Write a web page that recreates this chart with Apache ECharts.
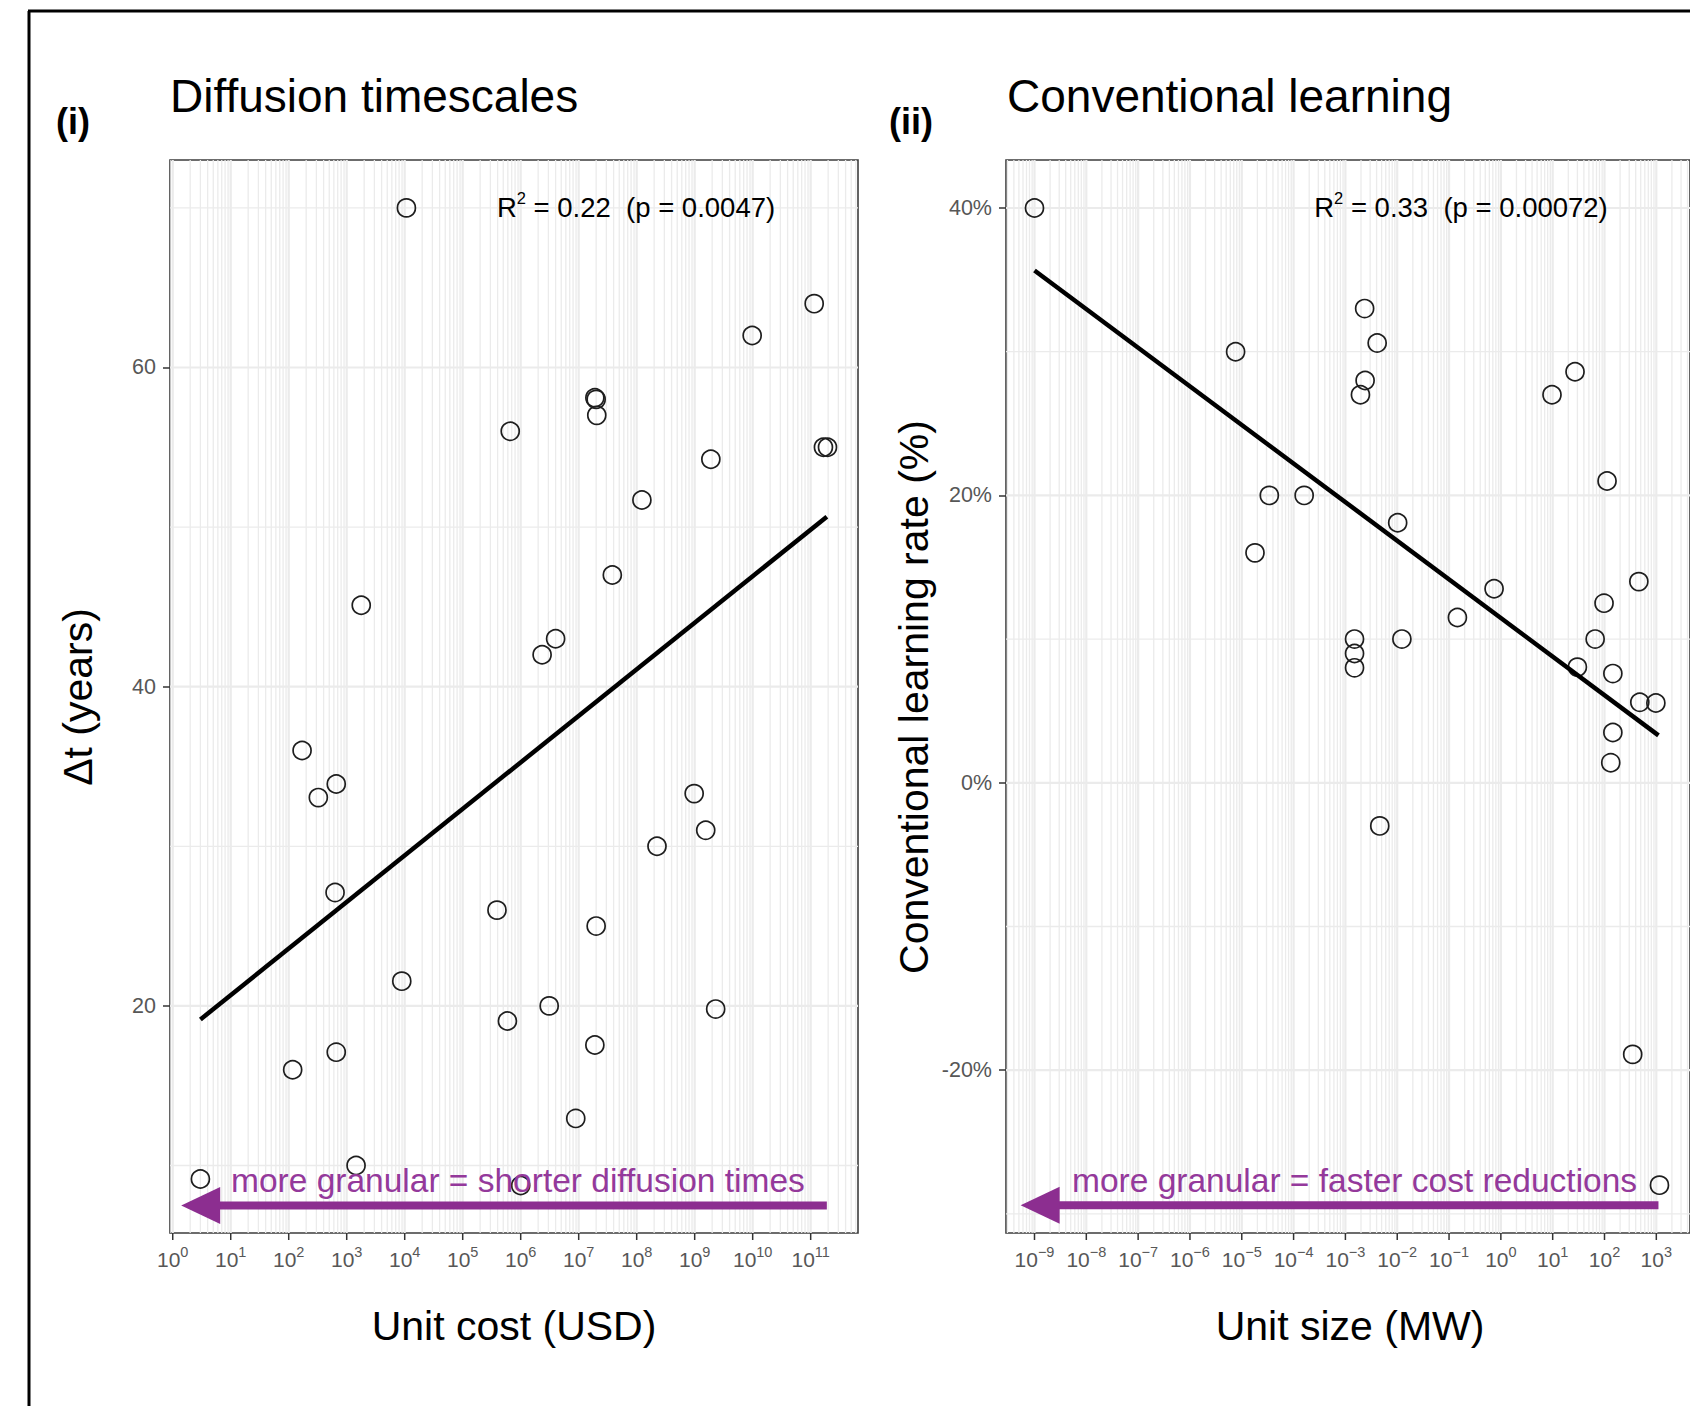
<!DOCTYPE html>
<html>
<head>
<meta charset="utf-8">
<script src="https://cdn.jsdelivr.net/npm/echarts@6/dist/echarts.min.js"></script>
<style>
html,body{margin:0;padding:0;background:#fff;}
#chart{width:1690px;height:1406px;}
</style>
</head>
<body>
<div id="chart"></div>
<script>
// ---------------- DATA ----------------
// Panel (i): Diffusion timescales
const unitCostUSD = [1.07e4, 1.15e11, 9.8e9, 1.9e7, 2.0e7, 2.05e7, 6.6e5, 1.9e9, 1.66e11, 1.95e11,
  1.23e8, 3.8e7, 1.78e3, 4.0e6, 2.34e6, 170, 660, 324, 9.8e8, 1.55e9,
  2.24e8, 630, 3.9e5, 2.0e7, 8.9e3, 3.1e6, 2.3e9, 5.9e5, 660, 1.9e7,
  117, 8.9e6, 1.45e3, 3.0, 1.0e6];
const diffusionYears = [70.0, 64.0, 62.0, 58.1, 58.0, 57.0, 56.0, 54.25, 55.0, 55.0,
  51.7, 47.0, 45.1, 43.0, 42.0, 36.0, 33.9, 33.05, 33.3, 31.0,
  30.0, 27.1, 26.0, 25.0, 21.55, 20.0, 19.8, 19.05, 17.1, 17.55,
  16.0, 12.95, 10.0, 9.15, 8.75];
const fitCostX = [3.0, 1.9e11];
const fitCostY = [19.15, 50.65];
const arrowCost = [1.9e11, 1.4, 7.5];          // from x, tip x, y
const costTickExp = [0, 1, 2, 3, 4, 5, 6, 7, 8, 9, 10, 11];
const yearTicks = [20, 40, 60];
const yearMinor = [10, 30, 50, 70];

// Panel (ii): Conventional learning
const unitSizeMW = [1e-9, 7.6e-6, 2.35e-3, 4.1e-3, 2.4e-3, 1.95e-3, 9.7, 27, 112, 3.4e-5,
  1.6e-4, 1.02e-2, 1.8e-5, 0.74, 460, 98, 0.145, 1.5e-3, 1.5e-3, 1.5e-3,
  1.23e-2, 66, 30, 145, 480, 980, 145, 132, 4.6e-3, 350, 1150];
const learningRatePct = [40.0, 30.0, 33.0, 30.6, 28.0, 27.0, 27.0, 28.6, 21.0, 20.0,
  20.0, 18.1, 16.0, 13.5, 14.0, 12.5, 11.5, 10.0, 9.0, 8.0,
  10.0, 10.0, 8.05, 7.6, 5.6, 5.55, 3.5, 1.4, -3.0, -18.9, -28.0];
const fitSizeX = [1e-9, 1100];
const fitSizeY = [35.65, 3.3];
const arrowSize = [1100, 5.4e-10, -29.4];
const sizeTickExp = [-9, -8, -7, -6, -5, -4, -3, -2, -1, 0, 1, 2, 3];
const rateTicks = [-20, 0, 20, 40];
const rateMinor = [-30, -10, 10, 30];

// axis ranges
const COST_RANGE = [Math.pow(10, -0.047), Math.pow(10, 11.816)];
const SIZE_RANGE = [Math.pow(10, -9.55), Math.pow(10, 3.65)];
const YEAR_RANGE = [5.77, 73.0];
const RATE_RANGE = [-31.33, 43.34];

// ---------------- STYLE ----------------
const FONT = "'Liberation Sans', Arial, Helvetica, sans-serif";
const GRID_COLOR = '#ebebeb';
const TICK_TEXT = '#575757';
const PURPLE = '#8c2e90';
const PURPLE_TEXT = '#94399b';

function logGrid(range) {
  const lo = Math.log10(range[0]), hi = Math.log10(range[1]);
  const major = [], minor = [];
  for (let k = Math.floor(lo); k <= Math.ceil(hi); k++) {
    const base = Math.pow(10, k);
    if (base >= range[0] && base <= range[1]) major.push(base);
    for (let m = 2; m <= 9; m++) {
      const v = m * base;
      if (v >= range[0] && v <= range[1]) minor.push(v);
    }
  }
  return {major, minor};
}

function vLines(idx, values, yRef, width) {
  return {
    type: 'custom', xAxisIndex: idx, yAxisIndex: idx, z: 1, silent: true, animation: false, clip: true,
    data: values.map(v => [v, yRef]),
    renderItem: (params, api) => {
      const cs = params.coordSys;
      const x = api.coord([api.value(0), api.value(1)])[0];
      return {type: 'line', shape: {x1: x, y1: cs.y, x2: x, y2: cs.y + cs.height},
        style: {stroke: GRID_COLOR, lineWidth: width}};
    }
  };
}
function hLines(idx, values, xRef, width) {
  return {
    type: 'custom', xAxisIndex: idx, yAxisIndex: idx, z: 1, silent: true, animation: false, clip: true,
    data: values.map(v => [xRef, v]),
    renderItem: (params, api) => {
      const cs = params.coordSys;
      const y = api.coord([api.value(0), api.value(1)])[1];
      return {type: 'line', shape: {x1: cs.x, y1: y, x2: cs.x + cs.width, y2: y},
        style: {stroke: GRID_COLOR, lineWidth: width}};
    }
  };
}
function xTicks(idx, exps, yRef) {
  return {
    type: 'custom', xAxisIndex: idx, yAxisIndex: idx, z: 5, silent: true, animation: false, clip: false,
    data: exps.map(e => [Math.pow(10, e), yRef]),
    renderItem: (params, api) => {
      const cs = params.coordSys;
      const x = api.coord([api.value(0), api.value(1)])[0];
      const b = cs.y + cs.height;
      const lab = String(exps[params.dataIndex]).replace('-', '\u2212');
      return {type: 'group', children: [
        {type: 'line', shape: {x1: x, y1: b, x2: x, y2: b + 7}, style: {stroke: '#333', lineWidth: 1.5}},
        {type: 'text', x: x, y: b + 24, style: {
          text: '{b|10}{s|' + lab + '}',
          align: 'center', verticalAlign: 'middle', textAlign: 'center', textVerticalAlign: 'middle',
          rich: {
            b: {fontSize: 21, fontFamily: FONT, fill: TICK_TEXT, color: TICK_TEXT, lineHeight: 25, verticalAlign: 'bottom'},
            s: {fontSize: 14.5, fontFamily: FONT, fill: TICK_TEXT, color: TICK_TEXT, verticalAlign: 'top'}
          }
        }}
      ]};
    }
  };
}
function arrowSeries(idx, arr) {
  return {
    type: 'custom', xAxisIndex: idx, yAxisIndex: idx, z: 4, silent: true, animation: false, clip: false,
    encode: {x: [0, 1], y: 2},
    data: [arr],
    renderItem: (params, api) => {
      const p1 = api.coord([api.value(0), api.value(2)]);
      const p2 = api.coord([api.value(1), api.value(2)]);
      const L = 39, W = 18.5;
      return {type: 'group', children: [
        {type: 'line', shape: {x1: p1[0], y1: p1[1], x2: p2[0] + L - 2, y2: p2[1]},
          style: {stroke: PURPLE, lineWidth: 8, lineCap: 'butt'}},
        {type: 'polygon', shape: {points: [[p2[0], p2[1]], [p2[0] + L, p2[1] - W], [p2[0] + L, p2[1] + W]]},
          style: {fill: PURPLE}}
      ]};
    }
  };
}
function scatterSeries(idx, xs, ys) {
  return {
    type: 'scatter', xAxisIndex: idx, yAxisIndex: idx, z: 3, silent: true, animation: false,
    symbol: 'circle', symbolSize: 18,
    itemStyle: {color: 'rgba(255,255,255,0)', borderColor: '#1e1e1e', borderWidth: 1.7, opacity: 1},
    data: xs.map((x, i) => [x, ys[i]])
  };
}
function fitSeries(idx, xs, ys) {
  return {
    type: 'line', xAxisIndex: idx, yAxisIndex: idx, z: 4, silent: true, animation: false,
    showSymbol: false, symbol: 'none',
    lineStyle: {color: '#000', width: 4.5},
    data: xs.map((x, i) => [x, ys[i]])
  };
}
function yAxisDef(idx, range, ticks, fmt) {
  return {
    type: 'value', gridIndex: idx, min: range[0], max: range[1],
    axisLine: {show: false}, splitLine: {show: false},
    axisTick: {show: true, customValues: ticks, length: 7, lineStyle: {color: '#333', width: 1.5}},
    axisLabel: {customValues: ticks, fontSize: 21.5, color: TICK_TEXT, fontFamily: FONT, margin: 14, formatter: fmt}
  };
}
function xAxisDef(idx, range) {
  return {
    type: 'log', logBase: 10, gridIndex: idx, min: range[0], max: range[1],
    axisLine: {show: false}, axisTick: {show: false}, axisLabel: {show: false},
    splitLine: {show: false}, minorTick: {show: false}, minorSplitLine: {show: false}
  };
}

const costGrid = logGrid(COST_RANGE);
const sizeGrid = logGrid(SIZE_RANGE);

const chart = echarts.init(document.getElementById('chart'), null, {renderer: 'svg', width: 1690, height: 1406});

const supRich = {
  b: {fontSize: 27.5, fontFamily: FONT, color: '#000', lineHeight: 32, verticalAlign: 'bottom'},
  s: {fontSize: 16.5, fontFamily: FONT, color: '#000', verticalAlign: 'top'}
};

chart.setOption({
  backgroundColor: '#ffffff',
  animation: false,
  grid: [
    {left: 170, top: 160, width: 688, height: 1073, show: true, backgroundColor: '#fff', borderColor: '#3d3d3d', borderWidth: 1.6},
    {left: 1006, top: 160, width: 688, height: 1073, show: true, backgroundColor: '#fff', borderColor: '#3d3d3d', borderWidth: 1.6}
  ],
  xAxis: [xAxisDef(0, COST_RANGE), xAxisDef(1, SIZE_RANGE)],
  yAxis: [
    yAxisDef(0, YEAR_RANGE, yearTicks, '{value}'),
    yAxisDef(1, RATE_RANGE, rateTicks, '{value}%')
  ],
  series: [
    vLines(0, costGrid.minor, 30, 1.3),
    vLines(0, costGrid.major, 30, 2.2),
    hLines(0, yearMinor, 10, 1.3),
    hLines(0, yearTicks, 10, 2.2),
    vLines(1, sizeGrid.minor, 0, 1.3),
    vLines(1, sizeGrid.major, 0, 2.2),
    hLines(1, rateMinor, 1, 1.3),
    hLines(1, rateTicks, 1, 2.2),
    xTicks(0, costTickExp, 30),
    xTicks(1, sizeTickExp, 0),
    scatterSeries(0, unitCostUSD, diffusionYears),
    scatterSeries(1, unitSizeMW, learningRatePct),
    fitSeries(0, fitCostX, fitCostY),
    fitSeries(1, fitSizeX, fitSizeY),
    arrowSeries(0, arrowCost),
    arrowSeries(1, arrowSize)
  ],
  graphic: [
    {type: 'line', z: 100, shape: {x1: 29, y1: 11, x2: 29, y2: 1406}, style: {stroke: '#000', lineWidth: 3}},
    {type: 'line', z: 100, shape: {x1: 28, y1: 11, x2: 1690, y2: 11}, style: {stroke: '#000', lineWidth: 3}},
    {type: 'text', z: 100, x: 56, y: 121, style: {text: '(i)', font: 'bold 36px ' + FONT, fill: '#000', align: 'left', verticalAlign: 'middle', textAlign: 'left', textVerticalAlign: 'middle'}},
    {type: 'text', z: 100, x: 889, y: 121, style: {text: '(ii)', font: 'bold 36px ' + FONT, fill: '#000', align: 'left', verticalAlign: 'middle', textAlign: 'left', textVerticalAlign: 'middle'}},
    {type: 'text', z: 100, x: 170, y: 96, style: {text: 'Diffusion timescales', font: '46px ' + FONT, fill: '#000', align: 'left', verticalAlign: 'middle', textAlign: 'left', textVerticalAlign: 'middle'}},
    {type: 'text', z: 100, x: 1007, y: 96, style: {text: 'Conventional learning', font: '46px ' + FONT, fill: '#000', align: 'left', verticalAlign: 'middle', textAlign: 'left', textVerticalAlign: 'middle'}},
    {type: 'text', z: 100, x: 514, y: 1326, style: {text: 'Unit cost (USD)', font: '41px ' + FONT, fill: '#000', align: 'center', verticalAlign: 'middle', textAlign: 'center', textVerticalAlign: 'middle'}},
    {type: 'text', z: 100, x: 1350, y: 1326, style: {text: 'Unit size (MW)', font: '41px ' + FONT, fill: '#000', align: 'center', verticalAlign: 'middle', textAlign: 'center', textVerticalAlign: 'middle'}},
    {type: 'text', z: 100, x: 78, y: 697, rotation: Math.PI / 2, style: {text: '\u0394t (years)', font: '41px ' + FONT, fill: '#000', align: 'center', verticalAlign: 'middle', textAlign: 'center', textVerticalAlign: 'middle'}},
    {type: 'text', z: 100, x: 914, y: 697, rotation: Math.PI / 2, style: {text: 'Conventional learning rate (%)', font: '41px ' + FONT, fill: '#000', align: 'center', verticalAlign: 'middle', textAlign: 'center', textVerticalAlign: 'middle'}},
    {type: 'text', z: 100, x: 636, y: 205.5, style: {text: '{b|R}{s|2}{b| = 0.22  (p = 0.0047)}', rich: supRich, fill: '#000', align: 'center', verticalAlign: 'middle', textAlign: 'center', textVerticalAlign: 'middle'}},
    {type: 'text', z: 100, x: 1461, y: 205.5, style: {text: '{b|R}{s|2}{b| = 0.33  (p = 0.00072)}', rich: supRich, fill: '#000', align: 'center', verticalAlign: 'middle', textAlign: 'center', textVerticalAlign: 'middle'}},
    {type: 'text', z: 100, x: 231, y: 1180, style: {text: 'more granular = shorter diffusion times', font: '33.5px ' + FONT, fill: PURPLE_TEXT, align: 'left', verticalAlign: 'middle', textAlign: 'left', textVerticalAlign: 'middle'}},
    {type: 'text', z: 100, x: 1072, y: 1180, style: {text: 'more granular = faster cost reductions', font: '33.5px ' + FONT, fill: PURPLE_TEXT, align: 'left', verticalAlign: 'middle', textAlign: 'left', textVerticalAlign: 'middle'}}
  ]
});
</script>
</body>
</html>
